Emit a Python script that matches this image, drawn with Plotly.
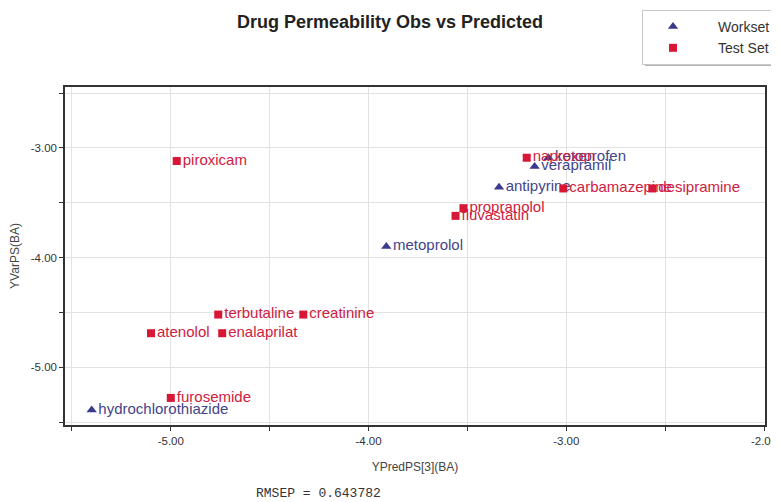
import plotly.graph_objects as go

# ---- data ----
work_names = ["ketoprofen", "verapramil", "antipyrine", "metoprolol", "hydrochlorothiazide"]
work_x = [-3.09, -3.16, -3.34, -3.91, -5.40]
work_y = [-3.09, -3.17, -3.36, -3.90, -5.39]

test_names = ["piroxicam", "naproxen", "carbamazepine", "desipramine", "propranolol",
              "fluvastatin", "terbutaline", "creatinine", "atenolol", "enalaprilat", "furosemide"]
test_x = [-4.97, -3.20, -3.015, -2.565, -3.52, -3.56, -4.76, -4.33, -5.10, -4.74, -5.00]
test_y = [-3.12, -3.09, -3.37, -3.37, -3.55, -3.62, -4.52, -4.52, -4.69, -4.69, -5.28]

x_tickvals = [-5.5, -5.0, -4.5, -4.0, -3.5, -3.0, -2.5, -2.0]
x_ticktext = ["", "-5.00", "", "-4.00", "", "-3.00", "", "-2.00"]
y_tickvals = [-5.5, -5.0, -4.5, -4.0, -3.5, -3.0, -2.5]
y_ticktext = ["", "-5.00", "", "-4.00", "", "-3.00", ""]

rmsep = 0.643782

RED = "#d81636"
BLUE = "#3a3a8c"
FONT = "Arial, Liberation Sans, sans-serif"

# the page body adds an 8px margin, so the figure is drawn 8px smaller
OFF = 8
W, H = 779 - OFF, 502 - OFF
PL, PR, PT, PB = 65 - OFF, 765 - OFF, 87 - OFF, 425 - OFF   # plot area in figure px


def px_x(X):  # reference pixel -> paper x
    return (X - OFF - PL) / (PR - PL)


def px_y(Y):  # reference pixel -> paper y
    return (PB - (Y - OFF)) / (PB - PT)


fig = go.Figure()
fig.add_trace(go.Scatter(
    x=work_x, y=work_y, text=work_names, name="Workset",
    mode="markers+text", textposition="middle right",
    marker=dict(symbol="triangle-up", size=9, color=BLUE),
    textfont=dict(family=FONT, size=15, color="#44448a"),
))
fig.add_trace(go.Scatter(
    x=test_x, y=test_y, text=test_names, name="Test Set",
    mode="markers+text", textposition="middle right",
    marker=dict(symbol="square", size=8, color=RED),
    textfont=dict(family=FONT, size=15, color="#cf2040"),
))

axis_common = dict(
    showline=True, linecolor="#333333", linewidth=1.5, mirror=True,
    showgrid=True, gridcolor="#e2e2e2", gridwidth=1,
    ticks="outside", ticklen=4, tickcolor="#333333",
    tickfont=dict(family=FONT, size=11.5, color="#333333"),
    zeroline=False, automargin=False,
)

fig.update_xaxes(range=[-5.535, -1.995], tickvals=x_tickvals, ticktext=x_ticktext,
                 title=dict(text="YPredPS[3](BA)", standoff=17,
                            font=dict(family=FONT, size=12, color="#444444")),
                 **axis_common)
fig.update_yaxes(range=[-5.527, -2.445], tickvals=y_tickvals, ticktext=y_ticktext,
                 title=dict(text="YVarPS(BA)", standoff=13,
                            font=dict(family=FONT, size=12, color="#444444")),
                 **axis_common)

# legend shadow
fig.add_shape(type="rect", xref="paper", yref="paper",
              x0=px_x(645), x1=px_x(777), y0=px_y(66), y1=px_y(14),
              fillcolor="#b4b4b4", line=dict(width=0), layer="below")

fig.add_annotation(text=f"RMSEP = {rmsep:.6f}", xref="paper", yref="paper",
                   x=px_x(318), y=px_y(493), xanchor="center", yanchor="middle",
                   showarrow=False,
                   font=dict(family="Liberation Mono, Courier New, monospace", size=13, color="#333333"))

fig.update_layout(
    width=W, height=H,
    margin=dict(l=PL, r=W - PR, t=PT, b=H - PB, autoexpand=False),
    paper_bgcolor="white", plot_bgcolor="white",
    title=dict(text="<b>Drug Permeability Obs vs Predicted</b>", x=(390 - OFF) / W, xanchor="center",
               y=1 - (22 - OFF) / H, yanchor="middle",
               font=dict(family=FONT, size=18, color="#222222")),
    showlegend=True,
    legend=dict(x=px_x(642), y=px_y(10), xanchor="left", yanchor="top",
                bgcolor="white", bordercolor="#c8c8c8", borderwidth=1,
                itemwidth=80, indentation=-15, tracegroupgap=0,
                font=dict(family=FONT, size=14, color="#333333")),
)

fig.write_html("out.html")
